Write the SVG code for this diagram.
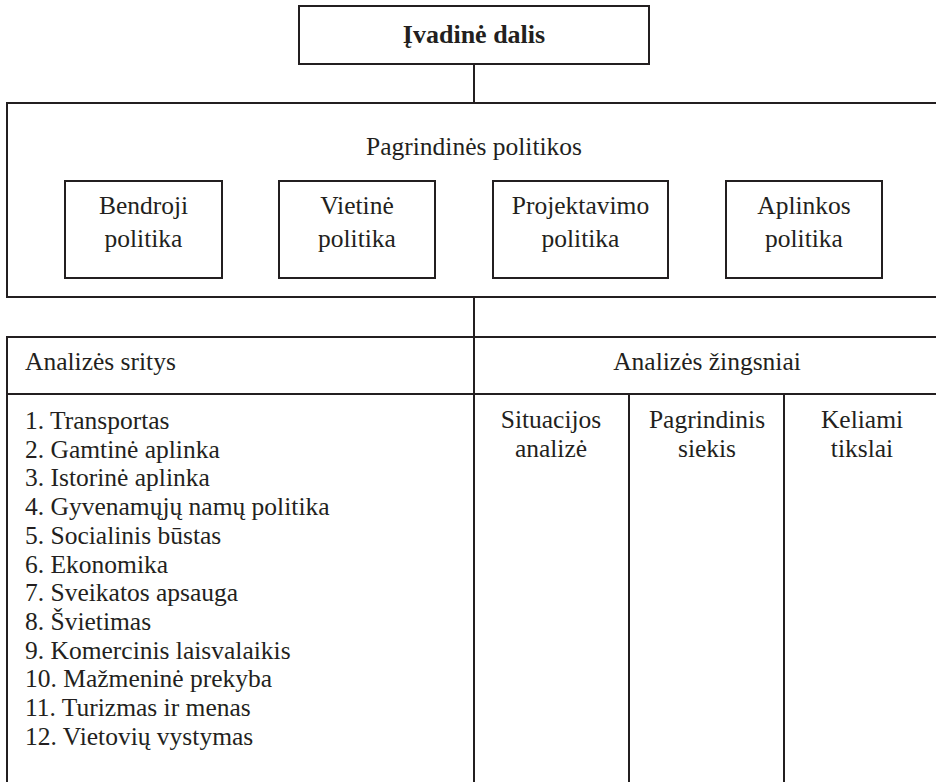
<svg xmlns="http://www.w3.org/2000/svg" width="936" height="782" viewBox="0 0 936 782">
  <style>
    .box { fill: #ffffff; stroke: #231f20; stroke-width: 2; }
    .ln { stroke: #231f20; stroke-width: 2; fill: none; }
    text { font-family: "Liberation Serif", "Times New Roman", Times, "Nimbus Roman", "Nimbus Roman No9 L", "Noto Serif", "DejaVu Serif", FreeSerif, Tinos, Georgia, serif; font-size: 25.5px; fill: #231f20; }
    .c { text-anchor: middle; }
    .b { font-weight: bold; font-size: 26px; }
  </style>
  <rect x="0" y="0" width="936" height="782" fill="#ffffff"/>

  <g id="connectors">
    <line class="ln" x1="474" y1="64" x2="474" y2="103"/>
    <line class="ln" x1="474" y1="297" x2="474" y2="337"/>
  </g>

  <g id="ivadine-dalis">
    <rect class="box" x="299" y="6" width="350" height="58"/>
    <text class="c b" x="474" y="43">Įvadinė dalis</text>
  </g>

  <g id="pagrindines-politikos">
    <rect class="box" x="7" y="103" width="940" height="194"/>
    <text class="c" x="474" y="155">Pagrindinės politikos</text>
  </g>

  <g id="bendroji-politika">
    <rect class="box" x="65" y="181" width="157" height="97"/>
    <text class="c" x="143.5" y="214">Bendroji</text>
    <text class="c" x="143.5" y="247">politika</text>
  </g>

  <g id="vietine-politika">
    <rect class="box" x="279" y="181" width="156" height="97"/>
    <text class="c" x="357" y="214">Vietinė</text>
    <text class="c" x="357" y="247">politika</text>
  </g>

  <g id="projektavimo-politika">
    <rect class="box" x="493" y="181" width="175" height="97"/>
    <text class="c" x="580.5" y="214">Projektavimo</text>
    <text class="c" x="580.5" y="247">politika</text>
  </g>

  <g id="aplinkos-politika">
    <rect class="box" x="726" y="181" width="156" height="97"/>
    <text class="c" x="804" y="214">Aplinkos</text>
    <text class="c" x="804" y="247">politika</text>
  </g>

  <g id="analizes-lentele">
    <rect class="box" x="7" y="337" width="940" height="460"/>
    <line class="ln" x1="7" y1="394" x2="940" y2="394"/>
    <line class="ln" x1="474" y1="337" x2="474" y2="790"/>
    <line class="ln" x1="629" y1="394" x2="629" y2="790"/>
    <line class="ln" x1="784" y1="394" x2="784" y2="790"/>
  </g>

  <g id="analizes-sritys">
    <text x="25" y="370">Analizės sritys</text>
    <text x="25" y="429">1. Transportas</text>
    <text x="25" y="457.7">2. Gamtinė aplinka</text>
    <text x="25" y="486.4">3. Istorinė aplinka</text>
    <text x="25" y="515.1">4. Gyvenamųjų namų politika</text>
    <text x="25" y="543.8">5. Socialinis būstas</text>
    <text x="25" y="572.5">6. Ekonomika</text>
    <text x="25" y="601.2">7. Sveikatos apsauga</text>
    <text x="25" y="629.9">8. Švietimas</text>
    <text x="25" y="658.6">9. Komercinis laisvalaikis</text>
    <text x="25" y="687.3">10. Mažmeninė prekyba</text>
    <text x="25" y="716">11. Turizmas ir menas</text>
    <text x="25" y="744.7">12. Vietovių vystymas</text>
  </g>

  <g id="analizes-zingsniai">
    <text class="c" x="707" y="370">Analizės žingsniai</text>
  </g>

  <g id="situacijos-analize">
    <text class="c" x="551" y="428">Situacijos</text>
    <text class="c" x="551" y="457">analizė</text>
  </g>

  <g id="pagrindinis-siekis">
    <text class="c" x="707" y="428">Pagrindinis</text>
    <text class="c" x="707" y="457">siekis</text>
  </g>

  <g id="keliami-tikslai">
    <text class="c" x="862" y="428">Keliami</text>
    <text class="c" x="862" y="457">tikslai</text>
  </g>
</svg>
